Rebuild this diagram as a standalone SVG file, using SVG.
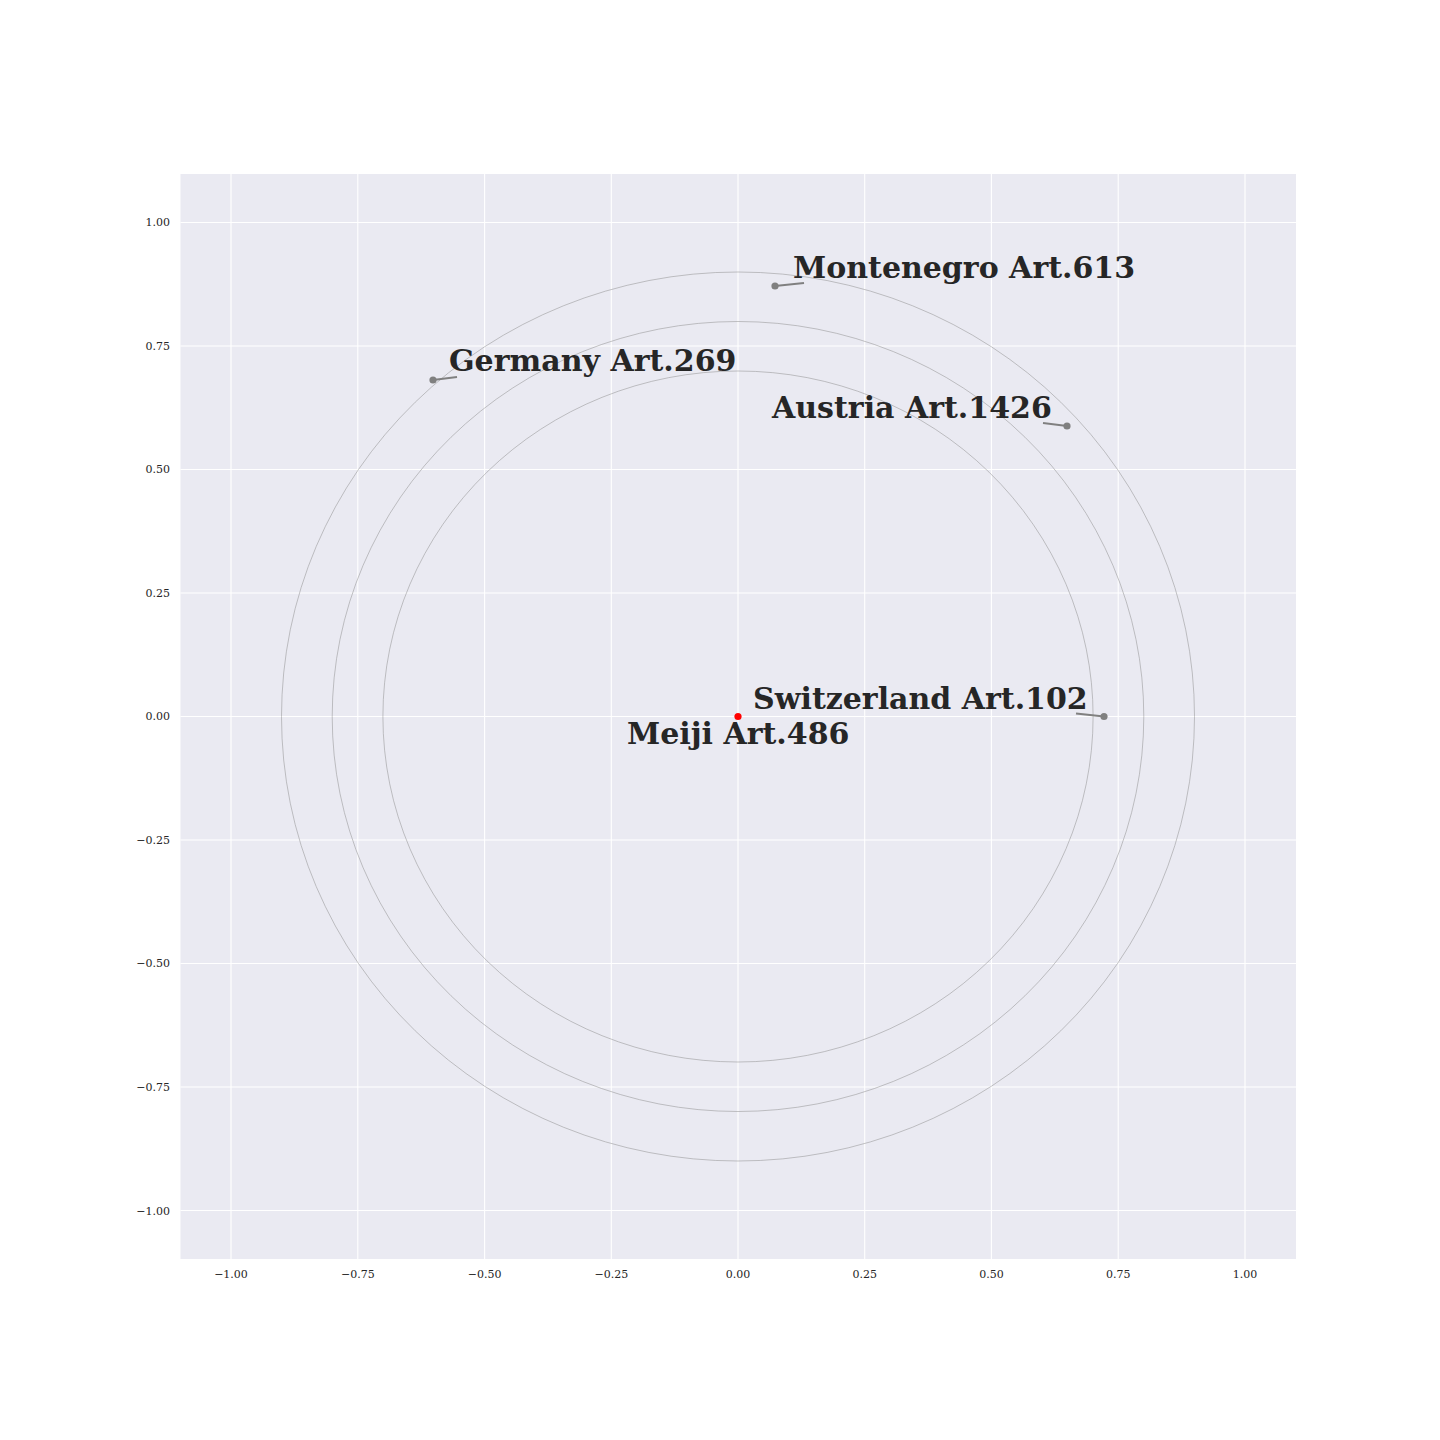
<svg xmlns="http://www.w3.org/2000/svg" width="1440" height="1440" viewBox="0 0 1440 1440">
<style>
.grid{stroke:#ffffff;stroke-width:1.1;fill:none}
.ring{stroke:#8c8c8c;stroke-width:0.5;fill:none}
.tick{font-family:"DejaVu Serif",serif;font-size:11px;fill:#262626}
.lbl{font-family:"DejaVu Serif",serif;font-size:30px;font-weight:bold;fill:#262626}
.pt{fill:#808080}
.ln{stroke:#808080;stroke-width:2.2;fill:none}
</style>
<rect width="1440" height="1440" fill="#ffffff"/>
<rect x="180.5" y="174" width="1115.5" height="1085" fill="#eaeaf2"/>
<g id="grid">
<path class="grid" d="M231,174V1259M357.8,174V1259M484.6,174V1259M611.3,174V1259M738,174V1259M864.7,174V1259M991.4,174V1259M1118.2,174V1259M1245,174V1259"/>
<path class="grid" d="M180.5,222.5H1296M180.5,346H1296M180.5,469.5H1296M180.5,593H1296M180.5,716.5H1296M180.5,840H1296M180.5,963.5H1296M180.5,1087H1296M180.5,1210.5H1296"/>
</g>
<g id="ticks">
<g text-anchor="end">
<text class="tick" x="170" y="226">1.00</text>
<text class="tick" x="170" y="350">0.75</text>
<text class="tick" x="170" y="473">0.50</text>
<text class="tick" x="170" y="597">0.25</text>
<text class="tick" x="170" y="720">0.00</text>
<text class="tick" x="170" y="844">−0.25</text>
<text class="tick" x="170" y="967">−0.50</text>
<text class="tick" x="170" y="1091">−0.75</text>
<text class="tick" x="170" y="1215">−1.00</text>
</g>
<g text-anchor="middle">
<text class="tick" x="231" y="1278">−1.00</text>
<text class="tick" x="357.8" y="1278">−0.75</text>
<text class="tick" x="484.6" y="1278">−0.50</text>
<text class="tick" x="611.3" y="1278">−0.25</text>
<text class="tick" x="738" y="1278">0.00</text>
<text class="tick" x="864.7" y="1278">0.25</text>
<text class="tick" x="991.4" y="1278">0.50</text>
<text class="tick" x="1118.2" y="1278">0.75</text>
<text class="tick" x="1245" y="1278">1.00</text>
</g>
</g>
<g id="rings">
<ellipse class="ring" cx="738" cy="716.5" rx="456.5" ry="444.5"/>
<ellipse class="ring" cx="738" cy="716.5" rx="405.8" ry="395"/>
<ellipse class="ring" cx="738" cy="716.5" rx="355.1" ry="345.5"/>
</g>
<g id="connectors">
<line class="ln" x1="775" y1="286" x2="804" y2="283"/>
<line class="ln" x1="433" y1="380" x2="457" y2="377"/>
<line class="ln" x1="1067" y1="426" x2="1043" y2="423"/>
<line class="ln" x1="1104" y1="716.5" x2="1076" y2="713.5"/>
</g>
<g id="meiji"><circle cx="738" cy="716.5" r="3.6" fill="#ff0000"/><text class="lbl" x="627" y="744">Meiji Art.486</text></g>
<g id="montenegro"><circle class="pt" cx="775" cy="286" r="3.6"/><text class="lbl" x="793" y="278">Montenegro Art.613</text></g>
<g id="germany"><circle class="pt" cx="433" cy="380" r="3.6"/><text class="lbl" x="449" y="371">Germany Art.269</text></g>
<g id="austria"><circle class="pt" cx="1067" cy="426" r="3.6"/><text class="lbl" x="772" y="418">Austria Art.1426</text></g>
<g id="switzerland"><circle class="pt" cx="1104" cy="716.5" r="3.6"/><text class="lbl" x="753" y="709">Switzerland Art.102</text></g>
</svg>
